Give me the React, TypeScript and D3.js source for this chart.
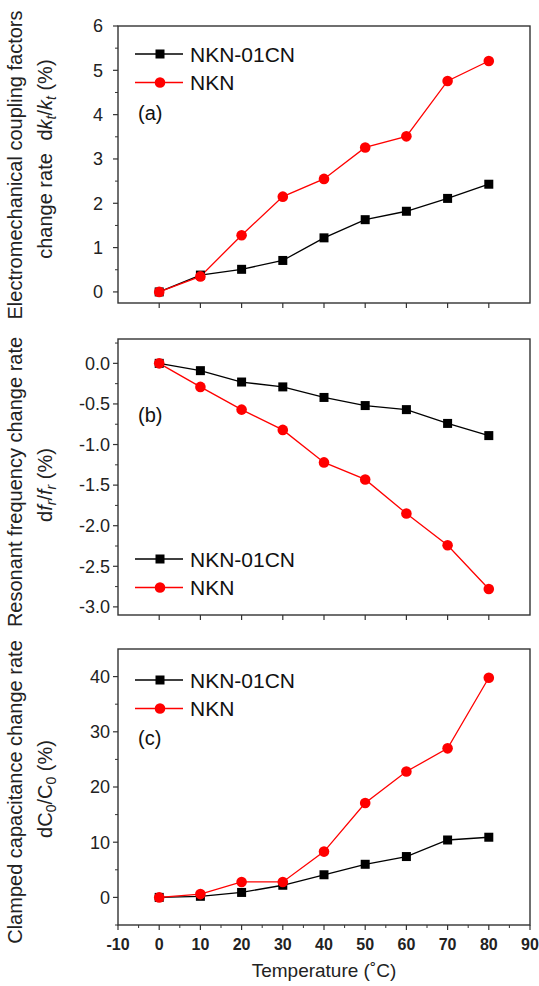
import React from 'react';
import * as d3 from 'd3';

// temperatures (°C)
const temps = [0, 10, 20, 30, 40, 50, 60, 70, 80];

// (a) dk_t/k_t (%)
const kNKN01CN = [0, 0.38, 0.51, 0.71, 1.22, 1.63, 1.82, 2.11, 2.43];
const kNKN = [0, 0.35, 1.28, 2.15, 2.55, 3.26, 3.51, 4.76, 5.21];

// (b) df_r/f_r (%)
const fNKN01CN = [0, -0.09, -0.23, -0.29, -0.42, -0.52, -0.57, -0.74, -0.89];
const fNKN = [0, -0.29, -0.57, -0.82, -1.22, -1.43, -1.85, -2.24, -2.78];

// (c) dC0/C0 (%)
const cNKN01CN = [0, 0.2, 0.9, 2.2, 4.1, 6.0, 7.4, 10.4, 10.9];
const cNKN = [0, 0.6, 2.8, 2.8, 8.3, 17.1, 22.8, 27.0, 39.8];

const xTicks = [-10, 0, 10, 20, 30, 40, 50, 60, 70, 80, 90];
const seriesNames = ['NKN-01CN', 'NKN'];

const FONT = 'Arial, "Liberation Sans", sans-serif';
const AXIS = '#333';
const RED = '#ff0000';

const x = d3.scaleLinear().domain([-10, 90]).range([118, 530]);

const panels = [
  {
    key: 'a', tag: '(a)', top: 26, bottom: 303, domain: [-0.25, 6],
    major: d3.range(0, 6.01, 1), minor: d3.range(0.5, 6, 1),
    fmt: (v: number) => String(v), labelX: 103,
    black: kNKN01CN, red: kNKN, legendY: 54, tagY: 120,
  },
  {
    key: 'b', tag: '(b)', top: 339, bottom: 615, domain: [-3.1, 0.3],
    major: d3.range(-3, 0.01, 0.5), minor: d3.range(-2.75, 0.3, 0.5),
    fmt: (v: number) => v.toFixed(1), labelX: 110,
    black: fNKN01CN, red: fNKN, legendY: 559, tagY: 422,
  },
  {
    key: 'c', tag: '(c)', top: 649, bottom: 925, domain: [-5, 45],
    major: d3.range(0, 40.01, 10), minor: d3.range(-5, 45, 10),
    fmt: (v: number) => String(v), labelX: 110,
    black: cNKN01CN, red: cNKN, legendY: 680, tagY: 745,
  },
];

const Panel = ({ p, last }: { p: any; last: boolean }) => {
  const y = d3.scaleLinear().domain(p.domain).range([p.bottom, p.top]);
  const line = d3.line<number>().x((_, i) => x(temps[i])).y(d => y(d));
  const [x0, x1] = x.range();
  const xMajor = last ? xTicks : temps;
  const xMinor = last ? d3.range(-5, 90, 10) : [];
  return (
    <g>
      {/* frame */}
      <rect x={x0} y={p.top} width={x1 - x0} height={p.bottom - p.top}
        fill="none" stroke={AXIS} strokeWidth={1.4} />
      {/* y ticks */}
      {p.major.map((v: number) => (
        <g key={'ym' + v}>
          <line x1={x0 - 5} x2={x0} y1={y(v)} y2={y(v)} stroke={AXIS} strokeWidth={1.2} />
          <text x={p.labelX} y={y(v)} dy="0.35em" textAnchor="end" fontSize={18}
            fontFamily={FONT} fill="#222">{p.fmt(v)}</text>
        </g>
      ))}
      {p.minor.map((v: number) => (
        <line key={'yn' + v} x1={x0 - 3} x2={x0} y1={y(v)} y2={y(v)} stroke={AXIS} strokeWidth={1} />
      ))}
      {/* x ticks */}
      {xMajor.map((v: number) => (
        <g key={'xm' + v}>
          <line x1={x(v)} x2={x(v)} y1={p.bottom} y2={p.bottom + 5} stroke={AXIS} strokeWidth={1.2} />
          {last && (
            <text x={x(v)} y={950} textAnchor="middle" fontSize={16} fontWeight="bold"
              fontFamily={FONT} fill="#222">{v}</text>
          )}
        </g>
      ))}
      {xMinor.map((v: number) => (
        <line key={'xn' + v} x1={x(v)} x2={x(v)} y1={p.bottom} y2={p.bottom + 3} stroke={AXIS} strokeWidth={1} />
      ))}
      {/* series */}
      <path d={line(p.black) || ''} fill="none" stroke="#000" strokeWidth={1.3} />
      <path d={line(p.red) || ''} fill="none" stroke={RED} strokeWidth={1.3} />
      {p.black.map((v: number, i: number) => (
        <rect key={'bs' + i} x={x(temps[i]) - 4.5} y={y(v) - 4.5} width={9} height={9} fill="#000" />
      ))}
      {p.red.map((v: number, i: number) => (
        <circle key={'rc' + i} cx={x(temps[i])} cy={y(v)} r={5.3} fill={RED} />
      ))}
      {/* legend */}
      {seriesNames.map((name, i) => {
        const ly = p.legendY + i * 28.5;
        const col = i === 0 ? '#000' : RED;
        return (
          <g key={name}>
            <line x1={135} x2={183} y1={ly} y2={ly} stroke={col} strokeWidth={1.3} />
            {i === 0
              ? <rect x={155.5} y={ly - 4.5} width={9} height={9} fill={col} />
              : <circle cx={160} cy={ly} r={5.3} fill={col} />}
            <text x={190} y={ly} dy="0.36em" fontSize={21} fontFamily={FONT} fill="#111">{name}</text>
          </g>
        );
      })}
      <text x={138} y={p.tagY} fontSize={20} fontFamily={FONT} fill="#111">{p.tag}</text>
    </g>
  );
};

const App = () => {
  const sub = { fontSize: 14 };
  return (
    <svg width={539} height={986} style={{ position: 'absolute', left: 0, top: 0, background: '#fff' }}>
      {panels.map((p, i) => <Panel key={p.key} p={p} last={i === panels.length - 1} />)}

      {/* y titles (a) */}
      <g fontFamily={FONT} fontSize={20} fill="#222" textAnchor="middle">
        <text transform="translate(22,165) rotate(-90)">Electromechanical coupling factors</text>
        <text transform="translate(52,206) rotate(-90)">change rate</text>
        <text transform="translate(52,100) rotate(-90)">
          <tspan>d</tspan><tspan fontStyle="italic">k</tspan>
          <tspan fontStyle="italic" dy={4} {...sub}>t</tspan>
          <tspan dy={-4}>/</tspan><tspan fontStyle="italic">k</tspan>
          <tspan fontStyle="italic" dy={4} {...sub}>t</tspan>
          <tspan dy={-4}> (%)</tspan>
        </text>

        {/* (b) */}
        <text transform="translate(22,482) rotate(-90)">Resonant frequency change rate</text>
        <text transform="translate(52,485) rotate(-90)">
          <tspan>d</tspan><tspan fontStyle="italic">f</tspan>
          <tspan fontStyle="italic" dy={4} {...sub}>r</tspan>
          <tspan dy={-4}>/</tspan><tspan fontStyle="italic">f</tspan>
          <tspan fontStyle="italic" dy={4} {...sub}>r</tspan>
          <tspan dy={-4}> (%)</tspan>
        </text>

        {/* (c) */}
        <text transform="translate(22,792) rotate(-90)">Clamped capacitance change rate</text>
        <text transform="translate(52,789) rotate(-90)">
          <tspan>dC</tspan>
          <tspan dy={4} {...sub}>0</tspan>
          <tspan dy={-4}>/C</tspan>
          <tspan dy={4} {...sub}>0</tspan>
          <tspan dy={-4}> (%)</tspan>
        </text>
      </g>

      <text x={324} y={977} textAnchor="middle" fontSize={19} fontFamily={FONT} fill="#222">
        Temperature (˚C)
      </text>
    </svg>
  );
};

export default App;
